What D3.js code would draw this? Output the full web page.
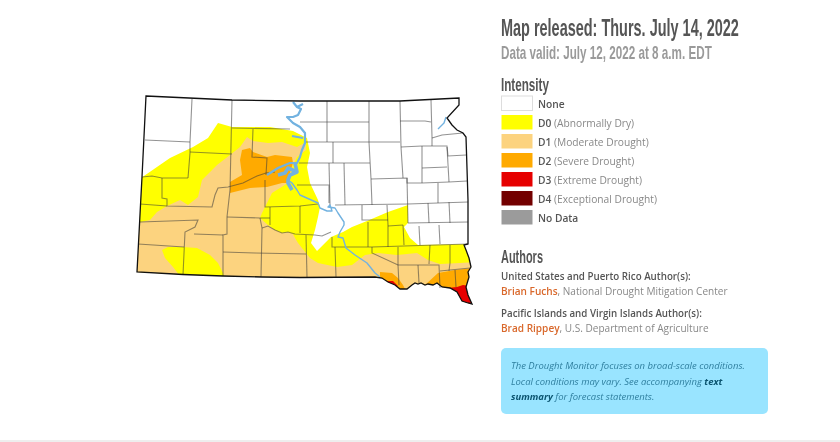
<!DOCTYPE html>
<html>
<head>
<meta charset="utf-8">
<script src="https://d3js.org/d3.v7.min.js"></script>
<style>
  html, body { margin: 0; padding: 0; background: #fff; }
  svg { display: block; filter: blur(0.3px); }
  text { font-family: "Open Sans", sans-serif; }
  .narrow { font-family: "Liberation Sans Narrow", "Liberation Sans", sans-serif; font-weight: 700; }
</style>
</head>
<body>
<svg id="chart" width="840" height="442"></svg>
<script>
// map shapes, in map grid units (0-350 east, 0-220 south)
const stateOutline = [[16,6],[102,10],[170,11],[270,11],[329,8],[329,15],[317,28],[322,35],[327,40],[333,43],[336,47],[338,110],[338,154],[334,155],[336,160],[339,168],[341,177],[338,182],[339,187],[336,197],[338,205],[342,214],[338,213],[332,211],[327,202],[320,198],[312,197],[307,193],[303,195],[298,194],[295,195],[291,193],[288,194],[285,193],[282,195],[277,199],[270,199],[265,195],[258,192],[252,188],[245,187],[170,187.5],[132,187],[93,186],[53,184.5],[7,182],[10.5,115],[12,87]];

const d0Rings = [
  [[0,88],[11,88],[40,68],[63,57],[78,48],[88,33],[102,37],[140,37],[163,41],[177,48],[180,63],[177,77],[180,93],[188,110],[190,117],[188,127],[185,140],[181,153],[187,161],[201,147],[213,142],[222,137],[237,131],[258,122],[278,115],[278,133],[274,137],[280,148],[288,155],[345,154],[345,220],[0,220]],
];
const d1Rings = [
  [[0,132],[10,132],[20,130],[27,122],[37,116],[50,110],[58,115],[68,107],[72,90],[87,75],[100,65],[110,57],[117,47],[123,51],[138,53],[152,52],[167,57],[176,52],[176,60],[167,67],[163,75],[158,93],[142,103],[135,117],[132,123],[130,128],[138,135],[145,140],[152,143],[158,142],[163,144],[165,148],[168,153],[180,168],[188,173],[207,177],[222,175],[235,165],[248,163],[267,165],[287,163],[298,170],[310,174],[330,173],[345,172],[345,220],[0,220]],
  [[32,160],[38,157],[53,157],[67,158],[80,165],[88,173],[93,183],[95,190],[53,190],[43,177],[35,168]],
];
const d2Rings = [
  [[100,92],[112,85],[110,70],[112,60],[120,58],[123,62],[137,67],[145,65],[162,67],[163,73],[157,93],[152,93],[137,97],[120,98],[100,103]],
  [[250,182],[262,183],[268,188],[273,195],[278,205],[250,205]],
  [[295,195],[308,183],[325,180],[345,178],[345,220],[310,220],[295,200]],
];
const d3Rings = [
  [[317,198],[327,197],[333,195],[340,196],[348,220],[330,220],[317,202]],
  [[256,191],[263,191],[268,196],[262,200]],
];

const countyLines = [
  [[62,9],[60,52],[60,63],[58,88]],
  [[15,50],[60,52]],
  [[60,62],[102,64]],
  [[102,10],[100,100],[97,127],[97,144],[93,145],[93,186]],
  [[12,87],[22,86],[32,88],[58,88]],
  [[32,88],[32,108],[37,109],[37,116],[82,117],[85,105],[88,98],[98,97],[113,93],[127,86],[136,83],[145,82]],
  [[10,114],[37,116]],
  [[102,38],[160,39]],
  [[123,39],[122,67],[137,68],[136,85]],
  [[10,132],[68,130],[65,137],[55,142],[53,185]],
  [[64,144],[93,145]],
  [[8,154],[54,157]],
  [[97,127],[130,128]],
  [[93,162],[125,163],[176,164]],
  [[135,90],[135,117],[170,116],[188,114]],
  [[140,117],[140,135]],
  [[130,128],[140,128]],
  [[130,128],[132,138],[131,187]],
  [[132,138],[138,136],[145,140],[152,143],[158,142],[165,144],[185,145],[192,146],[201,142]],
  [[170,116],[170,143]],
  [[176,145],[177,187]],
  [[167,95],[199,95],[199,113]],
  [[202,147],[202,157],[242,157],[338,154]],
  [[205,157],[206,187]],
  [[242,157],[242,163],[268,175],[309,175],[310,198]],
  [[268,157],[268,175],[269,195]],
  [[288,175],[289,193]],
  [[310,181],[340,178]],
  [[325,180],[326,197]],
  [[238,132],[238,157]],
  [[258,135],[258,157]],
  [[273,135],[274,155]],
  [[232,115],[232,130],[258,130]],
  [[205,115],[278,114],[338,112]],
  [[199,73],[200,115]],
  [[214,73],[215,115]],
  [[239,11],[239,52],[241,89],[242,115]],
  [[277,88],[278,133]],
  [[257,115],[258,135]],
  [[298,113],[299,133]],
  [[319,112],[320,133]],
  [[308,93],[308,113]],
  [[278,133],[338,132]],
  [[258,136],[273,135]],
  [[289,136],[290,155]],
  [[309,135],[310,154]],
  [[320,155],[320,173],[319,181]],
  [[300,155],[299,174]],
  [[197,11],[197,52]],
  [[170,32],[239,32]],
  [[176,52],[270,52]],
  [[203,52],[203,73]],
  [[169,73],[240,73]],
  [[241,89],[277,88],[277,93],[292,93],[319,92],[337,91]],
  [[270,11],[271,57],[273,88]],
  [[301,10],[302,47],[302,56]],
  [[270,31],[295,31],[301,32]],
  [[302,48],[312,45],[333,43]],
  [[271,57],[292,56],[317,56],[318,66],[336,65]],
  [[292,56],[292,93]],
  [[292,78],[317,77]],
  [[317,57],[319,92]],
];

const riverThick = [
  [[167,82],[158,78],[155,83],[148,85]],
  [[165,73],[167,82],[160,85],[158,90],[158,93],[162,100]],
];
const riverMedium = [
  [[163,12],[167,17],[171,19],[168,25],[163,27],[157,27],[163,33],[170,37],[175,43],[175,53],[172,60],[170,67],[167,73],[160,73],[155,75],[148,78],[137,85]],
  [[167,17],[173,14]],
  [[162,46],[173,48]],
];
const riverThin = [
  [[158,90],[162,93],[167,100],[170,105],[188,113],[190,118],[197,121],[202,121],[200,115],[198,117],[205,118],[208,123],[214,132],[214,135],[210,142],[208,147],[213,148],[216,158],[225,165],[237,173],[245,183],[250,187]],
  [[316,27],[314,33],[308,39]],
];

// legend and side panel text
const legendCodes = ['None', 'D0', 'D1', 'D2', 'D3', 'D4', 'No Data'];
const legendNames = ['', '(Abnormally Dry)', '(Moderate Drought)', '(Severe Drought)', '(Extreme Drought)', '(Exceptional Drought)', ''];
const legendColors = ['#ffffff', '#ffff00', '#fcd37f', '#ffaa00', '#e60000', '#730000', '#9b9b9b'];
const noteLines = [
  [['The Drought Monitor focuses on broad-scale conditions.', false]],
  [['Local conditions may vary. See accompanying ', false], ['text', true]],
  [['summary', true], [' for forecast statements.', false]],
];

const svg = d3.select('#chart');
const x = d3.scaleLinear().domain([0, 350]).range([130, 480]);
const y = d3.scaleLinear().domain([0, 220]).range([90, 310]);
const line = d3.line().x(d => x(d[0])).y(d => y(d[1]));
const ring = d => line(d) + 'Z';

svg.append('clipPath').attr('id', 'state')
  .append('path').attr('d', ring(stateOutline));

const map = svg.append('g');
const fills = map.append('g').attr('clip-path', 'url(#state)');

[[d0Rings, legendColors[1]], [d1Rings, legendColors[2]], [d2Rings, legendColors[3]], [d3Rings, legendColors[4]]]
  .forEach(([rings, color]) => {
    fills.append('path')
      .attr('d', rings.map(ring).join(''))
      .attr('fill-rule', 'evenodd')
      .attr('fill', color);
  });

map.append('g').selectAll('path').data(countyLines).join('path')
  .attr('d', line)
  .attr('fill', 'none')
  .attr('stroke', '#3a3a3a')
  .attr('stroke-opacity', 0.55)
  .attr('stroke-width', 1.1);

[[riverThick, 3.6], [riverMedium, 2.2], [riverThin, 1.4]].forEach(([rivers, width]) => {
  map.append('g').selectAll('path').data(rivers).join('path')
    .attr('d', line)
    .attr('fill', 'none')
    .attr('stroke', '#72b2e0')
    .attr('stroke-linejoin', 'round')
    .attr('stroke-width', width);
});

map.append('path')
  .attr('d', ring(stateOutline))
  .attr('fill', 'none')
  .attr('stroke', '#111')
  .attr('stroke-width', 1.3);

// font size that makes a text as wide as in the reference
function fitSize(sel, width) {
  return parseFloat(sel.attr('font-size')) * width / sel.node().getComputedTextLength();
}

function heading(label, baseline, size, width, color) {
  const t = svg.append('text').attr('class', 'narrow')
    .attr('font-size', size).attr('fill', color)
    .text(label);
  const stretch = width / t.node().getComputedTextLength();
  t.attr('transform', `translate(501,${baseline}) scale(${stretch},1)`);
}
heading('Map released: Thurs. July 14, 2022', 36, 23, 238, '#555');
heading('Data valid: July 12, 2022 at 8 a.m. EDT', 59, 18, 211, '#9a9a9a');
heading('Intensity', 91, 18, 48, '#555');
heading('Authors', 263, 18, 42, '#555');

const legendY = d3.scaleBand().domain(legendCodes).range([95.5, 228.5]);
const rows = svg.append('g').selectAll('g').data(legendCodes).join('g')
  .attr('transform', d => `translate(501,${legendY(d)})`);
rows.append('rect')
  .attr('x', 0.5).attr('y', 0.5)
  .attr('width', 31).attr('height', 14.5)
  .attr('fill', (d, i) => legendColors[i])
  .attr('stroke', (d, i) => i === 0 ? '#ddd' : 'none');
const rowText = rows.append('text').attr('x', 37).attr('y', 12).attr('font-size', 10);
rowText.append('tspan').attr('font-weight', 600).attr('fill', '#555').text(d => d);
rowText.append('tspan').attr('fill', '#888').text((d, i) => legendNames[i] ? ' ' + legendNames[i] : '');
rowText.attr('font-size', fitSize(d3.select(rowText.nodes()[5]), 119));

function authorBlock(title, name, org, baseline, titleWidth, nameWidth) {
  const head = svg.append('text').attr('x', 501).attr('y', baseline)
    .attr('font-size', 10).attr('font-weight', 600).attr('fill', '#555').text(title);
  head.attr('font-size', fitSize(head, titleWidth));
  const t = svg.append('text').attr('x', 501).attr('y', baseline + 15).attr('font-size', 10);
  t.append('tspan').attr('font-weight', 600).attr('fill', '#d9682b').text(name);
  t.append('tspan').attr('fill', '#888').text(org);
  t.attr('font-size', fitSize(t, nameWidth));
}
authorBlock('United States and Puerto Rico Author(s):', 'Brian Fuchs', ', National Drought Mitigation Center', 280, 190, 227);
authorBlock('Pacific Islands and Virgin Islands Author(s):', 'Brad Rippey', ', U.S. Department of Agriculture', 317, 201, 208);

svg.append('rect')
  .attr('x', 501).attr('y', 348).attr('width', 267).attr('height', 66).attr('rx', 5)
  .attr('fill', '#99e4ff');
const noteY = d3.scalePoint().domain(d3.range(noteLines.length)).range([369, 400]);
const notes = svg.append('g').selectAll('text').data(noteLines).join('text')
  .attr('x', 511).attr('y', (d, i) => noteY(i))
  .attr('font-size', 10).attr('font-style', 'italic');
notes.selectAll('tspan').data(d => d).join('tspan')
  .attr('font-weight', d => d[1] ? 700 : 400)
  .attr('fill', d => d[1] ? '#0b5470' : '#2f7f9f')
  .text(d => d[0]);
notes.attr('font-size', fitSize(d3.select(notes.nodes()[0]), 234));

svg.append('rect').attr('x', 0).attr('y', 440).attr('width', 840).attr('height', 2).attr('fill', '#eeeeee');
</script>
</body>
</html>
